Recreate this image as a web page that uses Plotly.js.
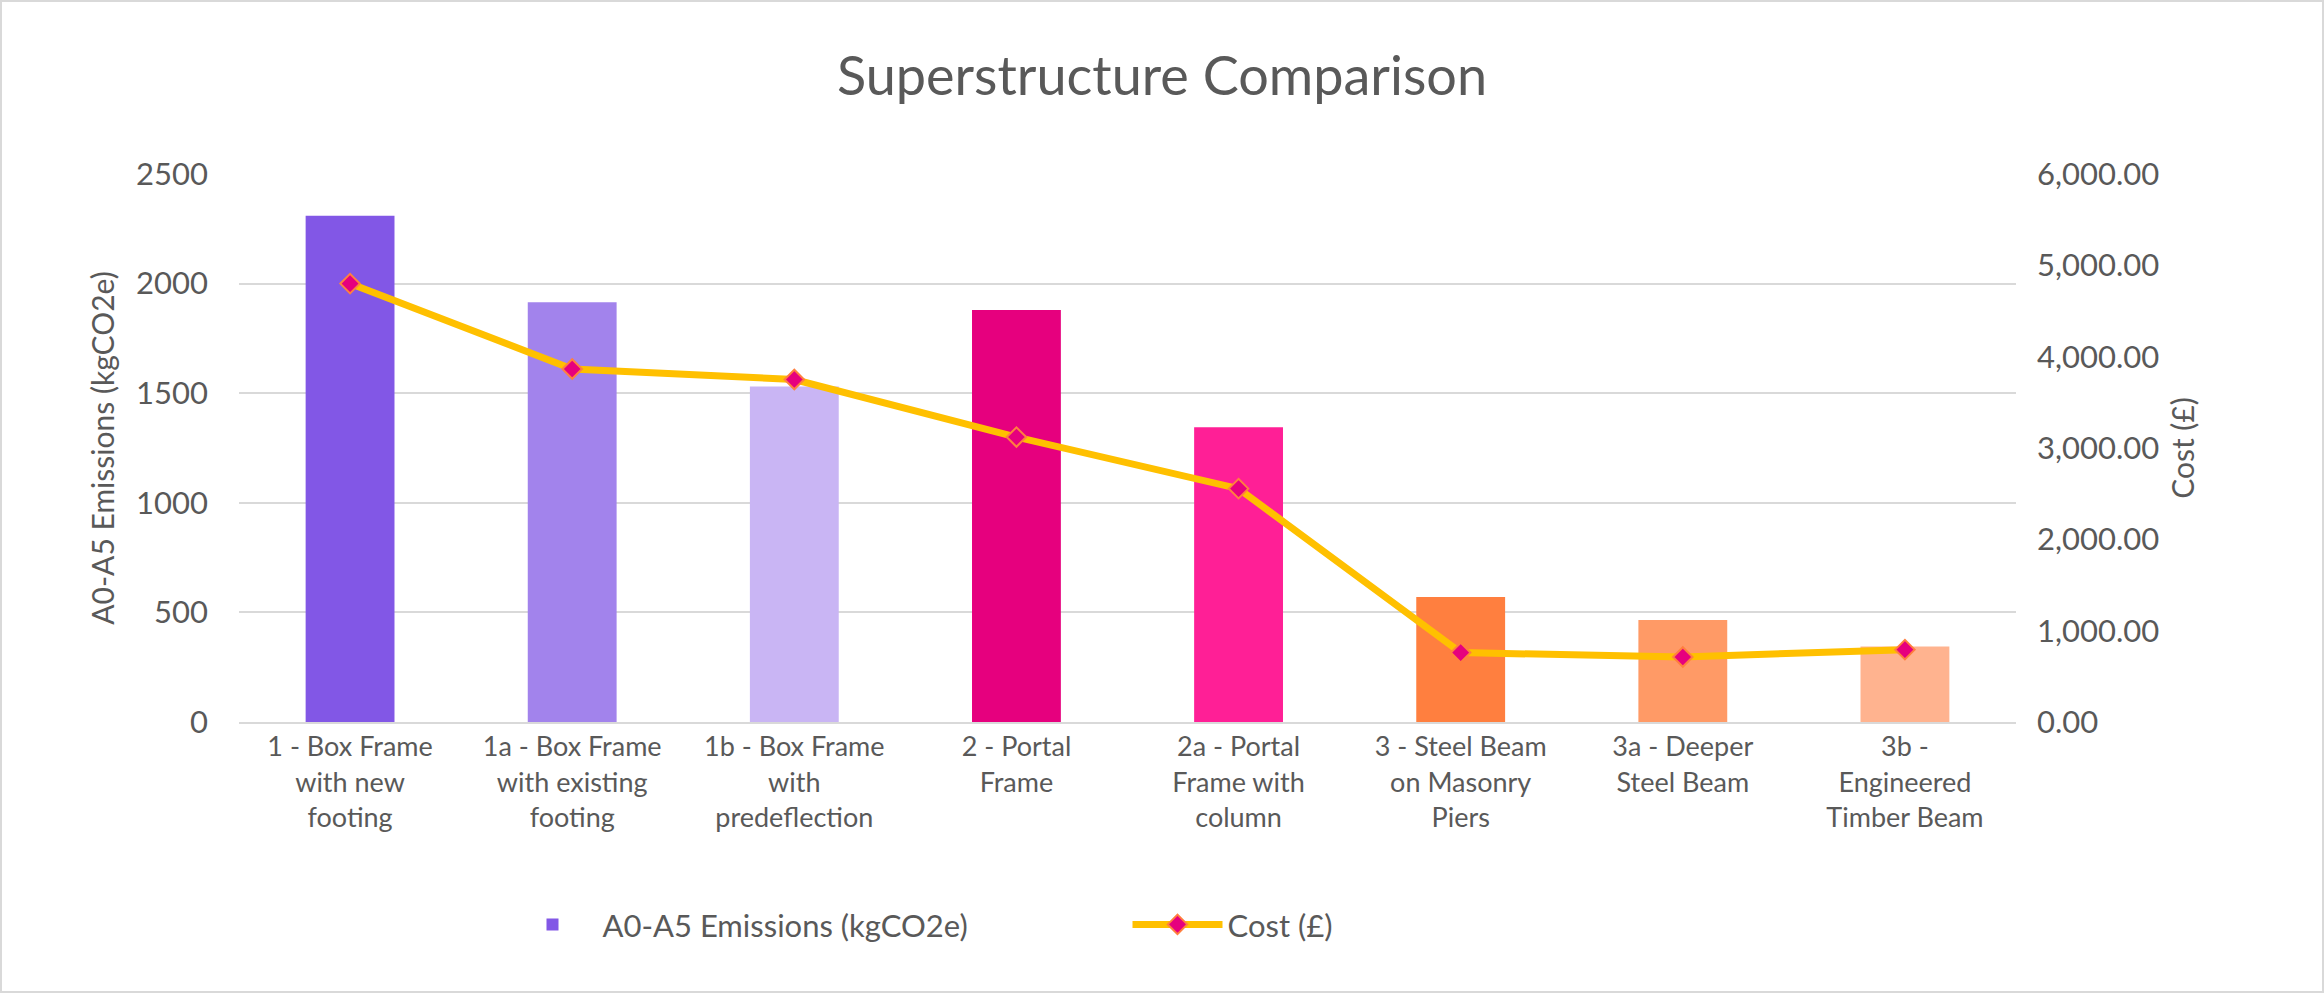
<!DOCTYPE html>
<html>
<head>
<script src="https://cdn.plot.ly/plotly-3.0.1.min.js"></script>
<style>body{margin:0;} #chart{width:2324px;height:993px;box-sizing:border-box;border:2px solid #d9d9d9;}</style>
</head>
<body>
<div id="chart"></div>
<script>
const categories = ['1 - Box Frame<br>with new<br>footing', '1a - Box Frame<br>with existing<br>footing', '1b - Box Frame<br>with<br>predeflection', '2 - Portal<br>Frame', '2a - Portal<br>Frame with<br>column', '3 - Steel Beam<br>on Masonry<br>Piers', '3a - Deeper<br>Steel Beam', '3b -<br>Engineered<br>Timber Beam'];
const emissions = [2310, 1915, 1530, 1880, 1345, 570, 465, 345];
const cost = [4800, 3865, 3750, 3120, 2555, 760, 712, 792];
const barColors = ['#8257e6', '#a283ec', '#c9b5f4', '#e6007e', '#ff1f96', '#ff7f3f', '#ff9a66', '#ffb38f'];

const font = 'Lato, "Open Sans", sans-serif';
const grey = '#595959';

const traces = [
  {
    x: categories, y: emissions, type: 'bar', name: 'A0-A5 Emissions (kgCO2e)',
    marker: { color: barColors }, width: 0.4, hoverinfo: 'y'
  },
  {
    x: categories, y: cost, type: 'scatter', mode: 'lines+markers', name: 'Cost (£)', yaxis: 'y2',
    line: { color: '#ffc000', width: 7 },
    marker: { symbol: 'diamond', size: 15, color: '#e6007e', line: { color: '#ff7f3f', width: 2 } }
  }
];

const layout = {
  width: 2320, height: 989,
  font: { family: font, color: grey, size: 28 },
  title: { text: 'Superstructure Comparison', font: { size: 54, color: grey }, x: 0.5, y: 0.925, yanchor: 'middle' },
  margin: { l: 237, r: 306, t: 172, b: 269 },
  xaxis: { tickfont: { size: 27, color: grey }, showline: true, linecolor: '#d9d9d9', linewidth: 2, ticks: '' },
  yaxis: {
    range: [0, 2500], dtick: 500, gridcolor: '#d9d9d9', gridwidth: 2, zeroline: false,
    tickfont: { size: 31, color: grey }, ticklabelstandoff: 30,
    title: { text: 'A0-A5 Emissions (kgCO2e)', font: { size: 30, color: grey }, standoff: 12 }
  },
  yaxis2: {
    overlaying: 'y', side: 'right', range: [0, 6000], dtick: 1000, showgrid: false, zeroline: false,
    tickformat: ',.2f', tickfont: { size: 31, color: grey }, ticklabelstandoff: 20,
    title: { text: 'Cost (£)', font: { size: 30, color: grey }, standoff: 14 }
  },
  showlegend: true,
  legend: { orientation: 'h', x: 0.5, xanchor: 'center', y: -0.37, yanchor: 'middle', font: { size: 31, color: grey }, itemwidth: 90, entrywidth: 520, entrywidthmode: 'pixels' },
  plot_bgcolor: 'white', paper_bgcolor: 'white'
};

Plotly.newPlot('chart', traces, layout, { displayModeBar: false });
</script>
</body>
</html>
